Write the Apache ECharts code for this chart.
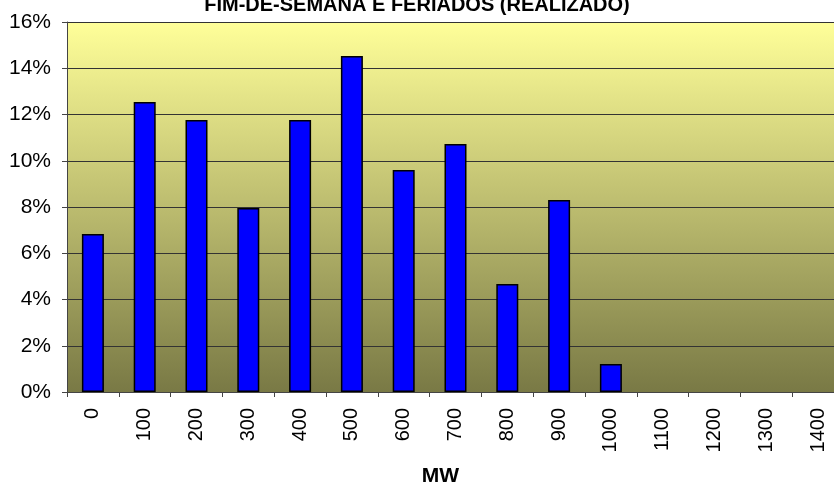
<!DOCTYPE html>
<html lang="pt-BR">
<head>
    <meta charset="UTF-8">
    <title>Fim-de-semana e feriados (realizado)</title>
    <style>
        * { margin: 0; padding: 0; }
        body { background: #fff; }
        #chart { width: 834px; height: 486px; }
    </style>
</head>
<body>
    <div id="chart"></div>
    <script src="https://cdn.jsdelivr.net/npm/echarts@6/dist/echarts.min.js"></script>
    <script>
    const categories = ['0', '100', '200', '300', '400', '500', '600', '700', '800', '900', '1000', '1100', '1200', '1300', '1400'];
    const shares = [6.83, 12.54, 11.76, 7.96, 11.76, 14.53, 9.6, 10.72, 4.67, 8.3, 1.21, 0, 0, 0, 0];
    const yTicks = [0, 2, 4, 6, 8, 10, 12, 14, 16];

    (() => {
        const chart = echarts.init(document.getElementById('chart'));
        const font = 'Liberation Sans, Arial, sans-serif';

        // empty classes get no bar outline (Excel draws nothing there)
        const barData = shares.map(v => v > 0 ? v : { value: v, itemStyle: { borderWidth: 0 } });

        chart.setOption({
            animation: false,
            title: {
                text: 'FIM-DE-SEMANA E FERIADOS (REALIZADO)',
                left: 'center',
                top: -10,
                textStyle: { fontFamily: font, fontSize: 20, fontWeight: 'bold', color: '#000' }
            },
            grid: {
                left: 67, top: 22, width: 777, height: 370,
                outerBoundsMode: 'none',
                containLabel: false,
                show: true,
                borderWidth: 0,
                backgroundColor: {
                    type: 'linear', x: 0, y: 0, x2: 0, y2: 1,
                    colorStops: [
                        { offset: 0, color: '#ffff99' },
                        { offset: 1, color: '#797945' }
                    ]
                }
            },
            xAxis: {
                type: 'category',
                data: categories,
                name: 'MW',
                nameLocation: 'middle',
                nameGap: 74,
                nameTextStyle: { fontFamily: font, fontSize: 21, fontWeight: 'bold', color: '#000', padding: [0, 0, 0, -30] },
                axisLine: { lineStyle: { color: '#444', width: 1 } },
                axisTick: { show: true, length: 5, lineStyle: { color: '#444' } },
                axisLabel: { rotate: 90, margin: 16, fontFamily: font, fontSize: 20, color: '#000' }
            },
            yAxis: {
                type: 'value',
                min: yTicks[0],
                max: yTicks[yTicks.length - 1],
                interval: 2,
                axisLine: { show: true, lineStyle: { color: '#444', width: 1 } },
                axisTick: { show: true, length: 5, lineStyle: { color: '#444' } },
                axisLabel: { formatter: '{value}%', margin: 16, fontFamily: font, fontSize: 21, color: '#000' },
                splitLine: { lineStyle: { color: '#333', width: 1 } }
            },
            series: [{
                type: 'bar',
                data: barData,
                barWidth: 22,
                itemStyle: { color: '#0000ff', borderColor: '#000', borderWidth: 1.5 }
            }]
        });
    })();
    </script>
</body>
</html>
